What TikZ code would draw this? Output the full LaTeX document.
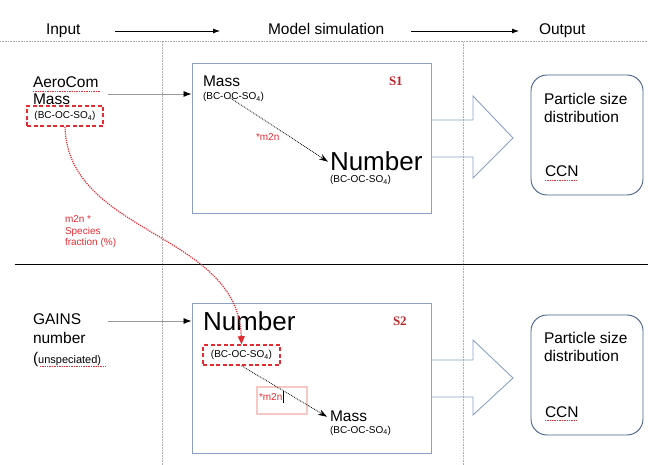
\documentclass[tikz,border=0pt]{standalone}
\usepackage{fontspec}
\setmainfont{Liberation Sans}
\newfontfamily\serifbold{Liberation Serif}
\usetikzlibrary{arrows.meta}

\definecolor{boxline}{RGB}{140,160,200}
\definecolor{outline}{RGB}{70,95,140}
\definecolor{redmark}{RGB}{225,45,50}
\definecolor{pinkbox}{RGB}{245,200,195}
\definecolor{gridgray}{RGB}{170,170,170}

\tikzset{
  txt/.style={inner sep=0pt, outer sep=0pt, anchor=base west, font=\fontsize{15.5}{18}\selectfont},
  bigtxt/.style={txt, font=\fontsize{26}{30}\selectfont},
  smalltxt/.style={txt, font=\fontsize{10}{12}\selectfont},
  redtxt/.style={txt, text=redmark, font=\fontsize{10}{11.5}\selectfont},
  tagtxt/.style={txt, text=redmark!85!black, font=\fontsize{13}{15}\serifbold\bfseries},
  simbox/.style={draw=boxline, line width=0.9pt, inner sep=0pt},
  resbox/.style={draw=outline, line width=0.9pt, rounded corners=16pt, inner sep=0pt},
  redbox/.style={draw=redmark, line width=1.6pt, dash pattern=on 4pt off 2.5pt, inner sep=0pt,
                 font=\fontsize{10}{12}\selectfont},
  flowarrow/.style={-{Latex[length=7pt,width=5pt]}, line width=0.8pt},
  feedarrow/.style={gray!80, line width=0.8pt, -{Latex[length=8pt,width=6pt,black]}},
  convarrow/.style={densely dotted, line width=0.8pt, -{Stealth[length=9pt,width=6pt]}},
  spell/.style={redmark, densely dotted, line width=0.7pt},
  blockarrow/.style={draw=boxline, line width=0.9pt, line join=miter}
}

\begin{document}
\begin{tikzpicture}[x=1pt,y=-1pt]
\useasboundingbox (0,0) rectangle (648,465);

% ---------- header row and frame lines ----------
\node[txt] (hin) at (46,35) {Input};
\node[txt] (hmod) at (268,35) {Model simulation};
\node[txt] (hout) at (539,35) {Output};
\draw[flowarrow] ([xshift=35pt]hin.east |- 0,31) -- ([xshift=-48pt]hmod.west |- 0,31);
\draw[flowarrow] ([xshift=27pt]hmod.east |- 0,31) -- ([xshift=-20pt]hout.west |- 0,31);

\coordinate (gl) at (0,41.5);
\coordinate (gr) at (648,41.5);
\draw[gridgray, densely dotted, line width=0.6pt] (gl) -- (gr);
\coordinate (v1t) at (162,42);  \coordinate (v1b) at (162,465);
\coordinate (v2t) at (463,42);  \coordinate (v2b) at (463,465);
\draw[gridgray, densely dotted, line width=0.6pt] (v1t) -- (v1b);
\draw[gridgray, densely dotted, line width=0.6pt] (v2t) -- (v2b);

\coordinate (sepl) at (15,264);
\coordinate (sepr) at (648,264);
\draw[black, line width=0.9pt] (sepl) -- (sepr);

% ---------- scenario S1 ----------
\node[txt] (aero) at (33,88) {AeroCom};
\node[txt] (aeromass) at (33,105) {Mass};
\node[redbox, minimum width=76pt, minimum height=20pt] (aerospec) at (65,116) {(BC-OC-SO\textsubscript{4})};
\draw[spell] (33,91) -- (100,91);

\node[simbox, minimum width=239pt, minimum height=150pt] (s1box) at (311.5,138) {};
\draw[feedarrow] (108,94) -- (s1box.west |- 0,94);

\node[txt] (s1mass) at (203,87) {Mass};
\node[smalltxt] (s1spec) at (203,100) {(BC-OC-SO\textsubscript{4})};
\node[tagtxt] (s1tag) at (389,86) {S1};
\node[bigtxt] (s1num) at (330,171) {Number};
\node[smalltxt] (s1numspec) at (330,183) {(BC-OC-SO\textsubscript{4})};
\node[redtxt] (s1conv) at (256,141) {*m2n};
\draw[convarrow] ([xshift=-3pt,yshift=4pt]s1spec.south) -- ([xshift=-2pt]s1num.west);

\draw[blockarrow] (s1box.east |- 0,120) -- (473,120) -- (473,96) -- (513,138)
  -- (473,178) -- (473,157) -- (s1box.east |- 0,157);

\node[resbox, minimum width=112pt, minimum height=120pt] (out1) at (587,135) {};
\node[txt] (out1a) at (544,105) {Particle size};
\node[txt] (out1b) at (544,123) {distribution};
\node[txt] (out1c) at (545,177) {CCN};
\draw[spell] (545,180) -- (576,180);

% ---------- scenario S2 ----------
\node[txt] (gains) at (33,324) {GAINS};
\node[txt] (gainsnum) at (33,343) {number};
\node[txt] (gainsun) at (33,363) {(\fontsize{11}{13}\selectfont unspeciated)};
\draw[spell] (40,366) -- (106,366);

\node[simbox, minimum width=239pt, minimum height=150pt] (s2box) at (311.5,378) {};
\draw[feedarrow] (108,321) -- (s2box.west |- 0,321);

\node[bigtxt] (s2num) at (203,330) {Number};
\node[tagtxt] (s2tag) at (393,325) {S2};
\node[redbox, minimum width=77pt, minimum height=20pt] (s2spec) at (241.5,355) {(BC-OC-SO\textsubscript{4})};
\node[draw=pinkbox, line width=2pt, minimum width=50pt, minimum height=27pt] (m2nbox) at (282,400.5) {};
\node[redtxt] (s2conv) at (259,400) {*m2n};
\coordinate (cursortop) at (283.5,391);
\coordinate (cursorbot) at (283.5,403);
\draw[black, line width=0.9pt] (cursortop) -- (cursorbot);
\node[txt] (s2mass) at (330,421) {Mass};
\node[smalltxt] (s2massspec) at (330,433) {(BC-OC-SO\textsubscript{4})};
\draw[convarrow] (s2spec.south) -- ([xshift=-3pt,yshift=-1pt]s2mass.west);

\draw[blockarrow] (s2box.east |- 0,360) -- (473,360) -- (473,340) -- (513,378)
  -- (473,415) -- (473,397) -- (s2box.east |- 0,397);

\node[resbox, minimum width=112pt, minimum height=120pt] (out2) at (587,375) {};
\node[txt] (out2a) at (544,343) {Particle size};
\node[txt] (out2b) at (544,361) {distribution};
\node[txt] (out2c) at (545,417) {CCN};
\draw[spell] (545,420) -- (576,420);

% ---------- mass-to-number link between the scenarios ----------
\draw[redmark, densely dotted, line width=1.2pt, -{Triangle[length=8pt,width=7pt]}]
  (aerospec.south) .. controls (68,235) and (238,232) .. (s2spec.north);
\node[redtxt, align=left, anchor=north west] (fraclbl) at (65,216)
  {m2n *\\Species\\fraction (\%)};

\end{tikzpicture}
\end{document}
